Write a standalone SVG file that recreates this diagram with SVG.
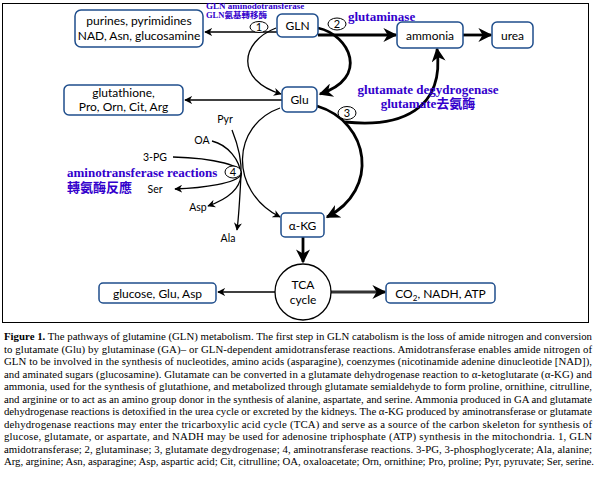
<svg xmlns="http://www.w3.org/2000/svg" width="600" height="500" viewBox="0 0 600 500">
<defs>
<style>
.node{fill:#fff;stroke:#1f4e8c;stroke-width:1.5}
.t{font-family:Lato,"Liberation Sans",sans-serif;font-size:12px;fill:#000;text-anchor:middle}
.s{font-family:Lato,"Liberation Sans",sans-serif;font-size:10.5px;fill:#000;text-anchor:middle}
.blue{font-family:"Liberation Serif","Noto Sans CJK TC",serif;font-weight:bold;fill:#3300cc}
.thin{fill:none;stroke:#000;stroke-width:1.3}
.thick{fill:none;stroke:#000;stroke-width:2.8}
.num{fill:#fff;stroke:#000;stroke-width:1}
.nt{font-family:Lato,"Liberation Sans",sans-serif;font-size:11px;text-anchor:middle;fill:#000}
.cap{font-family:"Liberation Serif",serif;font-size:10.8px;fill:#000}
</style>
<marker id="ah" viewBox="0 0 10 10" refX="9" refY="5" markerWidth="8" markerHeight="8" markerUnits="userSpaceOnUse" orient="auto"><path d="M0,0 L10,5 L0,10 L3,5 z" fill="#000"/></marker>
<marker id="ahb" viewBox="0 0 10 10" refX="9" refY="5" markerWidth="15" markerHeight="14" markerUnits="userSpaceOnUse" orient="auto"><path d="M0,0 L10,5 L0,10 L3,5 z" fill="#000"/></marker>
<marker id="ahg" viewBox="0 0 10 10" refX="9" refY="5" markerWidth="15" markerHeight="14" markerUnits="userSpaceOnUse" orient="auto"><path d="M0,0 L10,5 L0,10 L3,5 z" fill="#000"/></marker>
</defs>
<rect x="2.5" y="3.5" width="586" height="319" fill="#fff" stroke="#000" stroke-width="1"/>

<g id="connectors">
<path class="thin" d="M277,32 L205,32" marker-end="url(#ah)"/>
<path class="thick" d="M318,35 L396,35" marker-end="url(#ahb)"/>
<path class="thick" d="M463,35 L491,35" marker-end="url(#ahb)"/>
<path class="thin" d="M276,28 C240,42 235,80 281,94" marker-end="url(#ah)"/>
<path class="thick" d="M318,28 C350,35 370,78 320,94" marker-end="url(#ahb)"/>
<path class="thin" d="M282,100 L185,100" marker-end="url(#ah)"/>
<path class="thin" d="M280,108 C232,125 228,190 280,217" marker-end="url(#ah)"/>
<path class="thick" d="M317,106 C370,122 380,190 327,217" marker-end="url(#ahb)"/>
<path class="thick" d="M345,122 C400,128 445,110 437,49" marker-end="url(#ahb)"/>
<path class="thin" d="M173,157 C215,158 245,166 241,175 C236,183 205,188 175,189" marker-end="url(#ah)"/>
<path class="thin" d="M212,141 C228,145 240,160 241,175 C240,190 225,200 208,206" marker-end="url(#ah)"/>
<path class="thin" d="M232,130 C238,145 242,160 241,175 C240,195 239,215 237,230" marker-end="url(#ah)"/>
<path class="thick" d="M303,237 L303,262" marker-end="url(#ahb)"/>
<path class="thin" d="M275,292 L218,292" marker-end="url(#ah)"/>
<path fill="none" stroke="#333" stroke-width="3" d="M331,292 L385,292" marker-end="url(#ahg)"/>
</g>

<g id="labels">
<ellipse class="num" cx="259" cy="27" rx="9" ry="5.5"/><text class="nt" x="259" y="31">1</text>
<ellipse class="num" cx="337" cy="24" rx="9" ry="6"/><text class="nt" x="337" y="28">2</text>
<ellipse class="num" cx="347" cy="113" rx="9" ry="6.5"/><text class="nt" x="347" y="117">3</text>
<ellipse class="num" cx="233" cy="172" rx="8" ry="6"/><text class="nt" x="233" y="176">4</text>
<text class="blue" x="206" y="9" font-size="9">GLN aminodotransferase</text>
<text class="blue" x="206" y="18" font-size="8.5">GLN氨基轉移酶</text>
<text class="blue" x="348" y="21" font-size="13">glutaminase</text>
<text class="blue" x="428" y="94" font-size="13" text-anchor="middle">glutamate degydrogenase</text>
<text class="blue" x="428" y="108" font-size="13" text-anchor="middle">glutamate去氨酶</text>
<text class="blue" x="67" y="177" font-size="13">aminotransferase reactions</text>
<text class="blue" x="67" y="192" font-size="13">轉氨酶反應</text>
<text class="s" x="225" y="123">Pyr</text>
<text class="s" x="202" y="144">OA</text>
<text class="s" x="155" y="161">3-PG</text>
<text class="s" x="155" y="193">Ser</text>
<text class="s" x="198" y="211">Asp</text>
<text class="s" x="228" y="242">Ala</text>
</g>

<g id="purines"><rect class="node" x="75" y="10" width="128" height="37" rx="6"/><text class="t" x="139" y="25">purines, pyrimidines</text><text class="t" x="139" y="40">NAD, Asn, glucosamine</text></g>
<g id="GLN"><rect class="node" x="277" y="14" width="41" height="23" rx="5"/><text class="t" x="297.5" y="30" font-size="13">GLN</text></g>
<g id="ammonia"><rect class="node" x="397" y="22" width="66" height="26" rx="5"/><text class="t" x="430" y="40" font-size="13">ammonia</text></g>
<g id="urea"><rect class="node" x="492" y="22" width="41" height="26" rx="5"/><text class="t" x="512.5" y="40" font-size="13">urea</text></g>
<g id="Glu"><rect class="node" x="282" y="87" width="35" height="25" rx="5"/><text class="t" x="299.5" y="104" font-size="13">Glu</text></g>
<g id="glutathione"><rect class="node" x="64" y="85" width="119" height="30" rx="5"/><text class="t" x="123.5" y="97">glutathione,</text><text class="t" x="123.5" y="111">Pro, Orn, Cit, Arg</text></g>
<g id="aKG"><rect class="node" x="281" y="213" width="43" height="24" rx="4"/><text class="t" x="302.5" y="230">α-KG</text></g>
<g id="TCA"><circle cx="303" cy="292" r="28" fill="#fff" stroke="#000" stroke-width="1.3"/><text class="t" x="303" y="289">TCA</text><text class="t" x="303" y="304">cycle</text></g>
<g id="glucose"><rect class="node" x="99" y="283" width="117" height="20" rx="4"/><text class="t" x="157.5" y="298">glucose, Glu, Asp</text></g>
<g id="CO2"><rect class="node" x="386" y="283" width="109" height="20" rx="4"/><text class="t" x="440.5" y="298">CO<tspan font-size="8" dy="3">2</tspan><tspan dy="-3">, NADH, ATP</tspan></text></g>

<g id="caption" class="cap">
<text x="4" y="340" textLength="588" lengthAdjust="spacing"><tspan font-weight="bold">Figure 1.</tspan> The pathways of glutamine (GLN) metabolism. The first step in GLN catabolism is the loss of amide nitrogen and conversion</text>
<text x="4" y="352.5" textLength="588" lengthAdjust="spacing">to glutamate (Glu) by glutaminase (GA)– or GLN-dependent amidotransferase reactions. Amidotransferase enables amide nitrogen of</text>
<text x="4" y="365" textLength="588" lengthAdjust="spacing">GLN to be involved in the synthesis of nucleotides, amino acids (asparagine), coenzymes (nicotinamide adenine dinucleotide [NAD]),</text>
<text x="4" y="377.5" textLength="588" lengthAdjust="spacing">and aminated sugars (glucosamine). Glutamate can be converted in a glutamate dehydrogenase reaction to α-ketoglutarate (α-KG) and</text>
<text x="4" y="390" textLength="588" lengthAdjust="spacing">ammonia, used for the synthesis of glutathione, and metabolized through glutamate semialdehyde to form proline, ornithine, citrulline,</text>
<text x="4" y="402.5" textLength="588" lengthAdjust="spacing">and arginine or to act as an amino group donor in the synthesis of alanine, aspartate, and serine. Ammonia produced in GA and glutamate</text>
<text x="4" y="415" textLength="588" lengthAdjust="spacing">dehydrogenase reactions is detoxified in the urea cycle or excreted by the kidneys. The α-KG produced by aminotransferase or glutamate</text>
<text x="4" y="427.5" textLength="588" lengthAdjust="spacing">dehydrogenase reactions may enter the tricarboxylic acid cycle (TCA) and serve as a source of the carbon skeleton for synthesis of</text>
<text x="4" y="440" textLength="588" lengthAdjust="spacing">glucose, glutamate, or aspartate, and NADH may be used for adenosine triphosphate (ATP) synthesis in the mitochondria. 1, GLN</text>
<text x="4" y="452.5" textLength="588" lengthAdjust="spacing">amidotransferase; 2, glutaminase; 3, glutamate degydrogenase; 4, aminotransferase reactions. 3-PG, 3-phosphoglycerate; Ala, alanine;</text>
<text x="4" y="465" textLength="590" lengthAdjust="spacing">Arg, arginine; Asn, asparagine; Asp, aspartic acid; Cit, citrulline; OA, oxaloacetate; Orn, ornithine; Pro, proline; Pyr, pyruvate; Ser, serine.</text>
</g>
</svg>
